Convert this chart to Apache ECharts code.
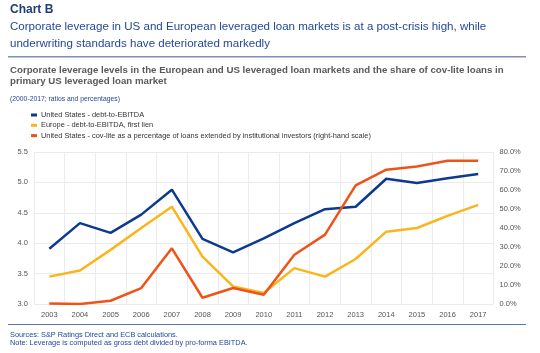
<!DOCTYPE html>
<html>
<head>
<meta charset="utf-8">
<script src="https://cdn.jsdelivr.net/npm/echarts@6/dist/echarts.min.js"></script>
<style>
  html, body { margin: 0; padding: 0; background: #fff; }
  #chart { width: 540px; height: 353px; }
</style>
</head>
<body>
<div id="chart"></div>
<script>
  "use strict";

  var years = ['2003', '2004', '2005', '2006', '2007', '2008', '2009', '2010', '2011', '2012', '2013', '2014', '2015', '2016', '2017'];
  // debt-to-EBITDA ratios (left axis)
  var usDebt = [3.91, 4.33, 4.17, 4.47, 4.88, 4.07, 3.85, 4.08, 4.33, 4.56, 4.60, 5.06, 4.99, 5.07, 5.14];
  var euDebt = [3.45, 3.55, 3.89, 4.25, 4.60, 3.78, 3.29, 3.18, 3.59, 3.45, 3.74, 4.19, 4.25, 4.45, 4.63];
  // cov-lite share in % (right axis)
  var usCovLite = [0.2, 0.0, 1.7, 8.4, 29.3, 3.3, 8.4, 4.9, 25.9, 36.5, 62.4, 70.7, 72.4, 75.4, 75.4];

  var names = [
    'United States - debt-to-EBITDA',
    'Europe - debt-to-EBITDA, first lien',
    'United States - cov-lite as a percentage of loans extended by institutional investors (right-hand scale)'
  ];
  var colors = { blue: '#0d3a8e', yellow: '#fbb51c', orange: '#ee5419' };
  var font = 'Liberation Sans, Arial, sans-serif';

  var chart = echarts.init(document.getElementById('chart'));

  var option = {
    animation: false,
    textStyle: { fontFamily: font },
    title: [
      { text: 'Chart B', left: 10, top: 4, padding: 0,
        textStyle: { fontSize: 12, fontWeight: 'bold', color: '#1f3b78', fontFamily: font } },
      { text: 'Corporate leverage in US and European leveraged loan markets is at a post-crisis high, while\nunderwriting standards have deteriorated markedly',
        left: 10, top: 18.5, padding: 0,
        textStyle: { fontSize: 11.55, fontWeight: 'normal', color: '#24479a', lineHeight: 17, fontFamily: font } },
      { text: 'Corporate leverage levels in the European and US leveraged loan markets and the share of cov-lite loans in\nprimary US leveraged loan market',
        left: 10, top: 64.5, padding: 0,
        textStyle: { fontSize: 9.7, fontWeight: 'bold', color: '#595959', lineHeight: 11, fontFamily: font } },
      { text: '(2000-2017; ratios and percentages)', left: 10, top: 95.5, padding: 0,
        textStyle: { fontSize: 6.8, fontWeight: 'normal', color: '#24479a', fontFamily: font } },
      { text: 'Sources: S&P Ratings Direct and ECB calculations.\nNote: Leverage is computed as gross debt divided by pro-forma EBITDA.',
        left: 10, top: 330.5, padding: 0,
        textStyle: { fontSize: 7.35, fontWeight: 'normal', color: '#24479a', lineHeight: 8.6, fontFamily: font } }
    ],
    graphic: [
      { type: 'line', shape: { x1: 8, y1: 56.7, x2: 526, y2: 56.7 }, style: { stroke: '#7d90b9', lineWidth: 1.5 } },
      { type: 'line', shape: { x1: 8, y1: 324.5, x2: 526, y2: 324.5 }, style: { stroke: '#5672b0', lineWidth: 1 } }
    ],
    legend: {
      orient: 'vertical',
      left: 31,
      top: 111.5,
      padding: 0,
      itemGap: 3.3,
      itemWidth: 6,
      itemHeight: 3,
      icon: 'rect',
      textStyle: { fontSize: 7.4, color: '#333', padding: [0, 0, 0, -1] },
      data: names
    },
    grid: { left: 34, right: 46.5, top: 152, bottom: 49, containLabel: false },
    xAxis: {
      type: 'category',
      data: years,
      boundaryGap: true,
      axisLine: { show: false },
      axisTick: { show: false },
      axisLabel: { fontSize: 7.5, color: '#555', margin: 7 },
      splitLine: { show: true, lineStyle: { color: '#ebebeb', width: 1 } }
    },
    yAxis: [
      {
        type: 'value', min: 3.0, max: 5.5, interval: 0.5,
        axisLine: { show: false }, axisTick: { show: false },
        axisLabel: { fontSize: 7.5, color: '#555', margin: 6, formatter: function (v) { return v.toFixed(1); } },
        splitLine: { show: true, lineStyle: { color: '#ebebeb', width: 1 } }
      },
      {
        type: 'value', min: 0, max: 80, interval: 10,
        axisLine: { show: false }, axisTick: { show: false },
        axisLabel: { fontSize: 7.5, color: '#555', margin: 6, formatter: function (v) { return v.toFixed(1) + '%'; } },
        splitLine: { show: false }
      }
    ],
    series: [
      { name: names[0], type: 'line', data: usDebt, yAxisIndex: 0, symbol: 'none',
        itemStyle: { color: colors.blue }, lineStyle: { color: colors.blue, width: 2.5 }, z: 3 },
      { name: names[1], type: 'line', data: euDebt, yAxisIndex: 0, symbol: 'none',
        itemStyle: { color: colors.yellow }, lineStyle: { color: colors.yellow, width: 2.5 }, z: 2 },
      { name: names[2], type: 'line', data: usCovLite, yAxisIndex: 1, symbol: 'none',
        itemStyle: { color: colors.orange }, lineStyle: { color: colors.orange, width: 2.5 }, z: 4 }
    ]
  };

  chart.setOption(option);
</script>
</body>
</html>
